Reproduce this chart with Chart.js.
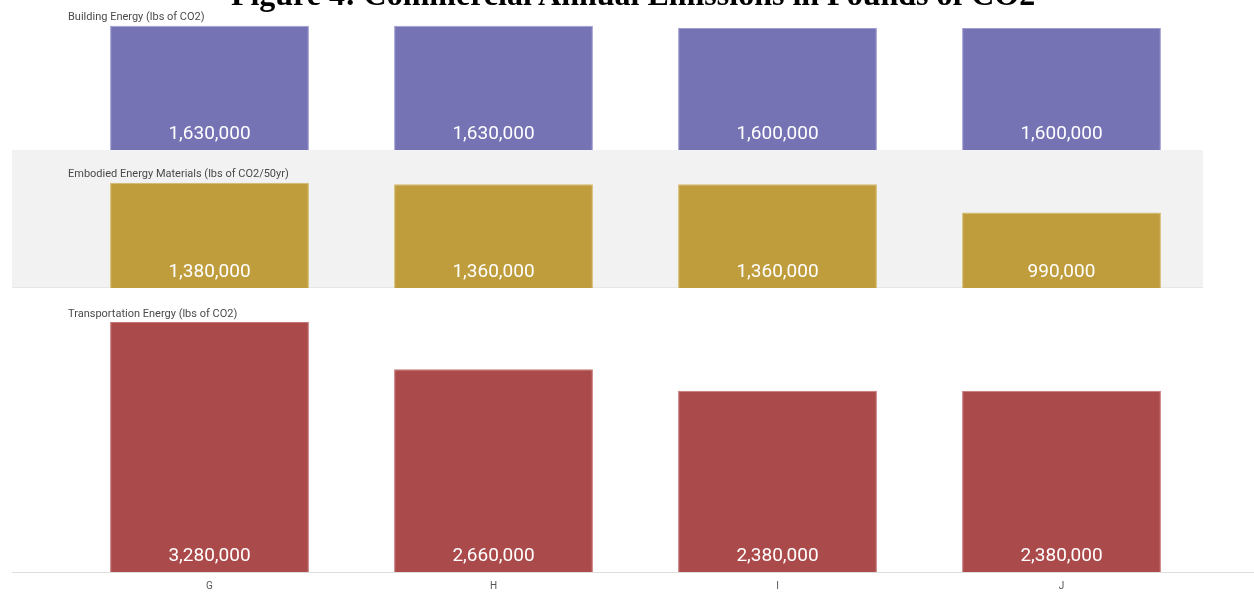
<!DOCTYPE html>
<html>
<head>
<meta charset="utf-8">
<script src="https://cdn.jsdelivr.net/npm/chart.js@4.4.1/dist/chart.umd.min.js"></script>
<style>
  html, body { margin: 0; padding: 0; background: #ffffff; overflow: hidden; }
  #wrap { position: relative; width: 1254px; height: 594px; }
  #title { position: absolute; left: 0; width: 1266px; top: -22px; text-align: center;
    font-family: "Liberation Serif", "Times New Roman", serif; font-weight: bold;
    font-size: 32px; line-height: 32px; color: #000; white-space: nowrap; }
  .panel { position: absolute; left: 0; width: 1254px; }
  #bg2 { position: absolute; left: 12px; width: 1191px; top: 150px; height: 138px; background: #f2f2f2; border-bottom: 1px solid #e6e6e6; box-sizing: border-box; }
  #axisline { position: absolute; left: 12px; width: 1242px; top: 572px; height: 1px; background: #dedede; }
</style>
</head>
<body>
<div id="wrap">
  <div id="bg2"></div>
  <div class="panel" style="top:0px;height:150px;"><canvas id="c1"></canvas></div>
  <div class="panel" style="top:150px;height:138px;"><canvas id="c2"></canvas></div>
  <div class="panel" style="top:288px;height:306px;"><canvas id="c3"></canvas></div>
  <div id="axisline"></div>
  <div id="title">Figure 4: Commercial Annual Emissions in Pounds of CO2</div>
</div>
<script>
const categories = ["G", "H", "I", "J"];
const buildingEnergy = [1630000, 1630000, 1600000, 1600000];
const embodiedEnergy = [1380000, 1360000, 1360000, 990000];
const transportEnergy = [3280000, 2660000, 2380000, 2380000];
const panelTitles = ["Building Energy (lbs of CO2)", "Embodied Energy Materials (lbs of CO2/50yr)", "Transportation Energy (lbs of CO2)"];

const PX_PER_MILLION = 76.2;

const labelPlugin = {
  id: 'panelLabels',
  afterDatasetsDraw(chart, args, opts) {
    const ctx = chart.ctx;
    const meta = chart.getDatasetMeta(0);
    ctx.save();
    ctx.fillStyle = '#ffffff';
    ctx.font = '19px Roboto, "Open Sans", sans-serif';
    ctx.textAlign = 'center';
    ctx.textBaseline = 'middle';
    meta.data.forEach((bar, i) => {
      const v = chart.data.datasets[0].data[i];
      ctx.fillText(v.toLocaleString('en-US'), bar.x, chart.chartArea.bottom - 16);
    });
    ctx.fillStyle = '#4a4a4a';
    ctx.font = '11px Roboto, "Open Sans", sans-serif';
    ctx.textAlign = 'left';
    ctx.fillText(opts.text, 68, opts.y);
    ctx.restore();
  }
};

function makeChart(id, data, color, border, areaHeight, title, titleY, showX) {
  const max = areaHeight / PX_PER_MILLION * 1e6;
  const xScale = {
    display: showX,
    grid: { display: false, drawTicks: false },
    border: { display: false },
    ticks: { color: '#555555', font: { size: 10, family: 'Roboto, sans-serif' }, padding: 8 }
  };
  if (showX) xScale.afterFit = (scale) => { scale.height = 22; };
  return new Chart(document.getElementById(id), {
    type: 'bar',
    data: {
      labels: categories,
      datasets: [{
        data: data,
        backgroundColor: color,
        borderColor: border,
        borderWidth: 1,
        categoryPercentage: 0.7,
        barPercentage: 1.0
      }]
    },
    options: {
      responsive: true,
      maintainAspectRatio: false,
      animation: false,
      layout: { padding: { left: 67.5, right: 50.5, top: 0, bottom: 0 } },
      plugins: {
        legend: { display: false },
        tooltip: { enabled: false },
        panelLabels: { text: title, y: titleY }
      },
      scales: {
        x: xScale,
        y: {
          display: false,
          min: 0,
          max: max
        }
      }
    },
    plugins: [labelPlugin]
  });
}

makeChart('c1', buildingEnergy, '#7573b4', '#9d9bd0', 150, panelTitles[0], 17, false);
makeChart('c2', embodiedEnergy, '#bf9d3d', '#d4b96a', 138, panelTitles[1], 24, false);
makeChart('c3', transportEnergy, '#ab4a4a', '#c57575', 284, panelTitles[2], 26, true);
</script>
</body>
</html>
